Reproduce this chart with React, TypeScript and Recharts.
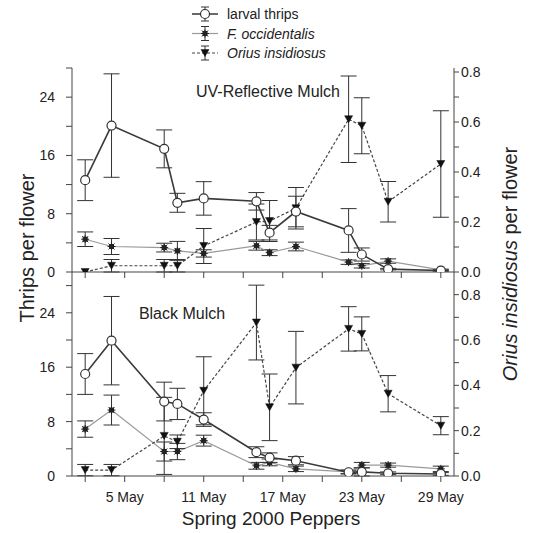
import React from "react";
import {
  ComposedChart,
  Line,
  XAxis,
  YAxis,
  ErrorBar,
} from "recharts";

// sampling dates (day of May 2000)
const days = [2, 4, 8, 9, 11, 15, 16, 18, 22, 23, 25, 29];

// UV-reflective mulch
const thripsUV = [12.6, 20.1, 16.9, 9.5, 10.1, 9.7, 5.4, 8.3, 5.7, 2.4, 0.4, 0.2];
const thripsUVErr = [2.8, 7.1, 2.6, 1.3, 2.3, 1.2, 1.0, 2.1, 3.0, 0.9, 0.1, 0.1];
const foccUV = [4.5, 3.5, 3.35, 2.9, 2.55, 3.6, 2.65, 3.5, 1.35, 0.85, 1.5, 0.3];
const foccUVErr = [1.0, 1.1, 0.6, 1.3, 0.5, 0.6, 0.4, 0.6, 0.3, 0.3, 0.3, 0.1];
const oriusUV = [0.0, 0.025, 0.025, 0.025, 0.104, 0.2, 0.204, 0.255, 0.611, 0.585, 0.281, 0.432];
const oriusUVErr = [0, 0.025, 0.025, 0.025, 0.07, 0.072, 0.082, 0.083, 0.173, 0.112, 0.081, 0.213];

// black mulch
const thripsBlack = [15.0, 19.9, 10.95, 10.6, 8.3, 3.5, 2.7, 2.25, 0.55, 0.6, 0.4, 0.3];
const thripsBlackErr = [3.0, 6.5, 2.85, 2.3, 1.0, 0.8, 0.7, 0.6, 0.2, 0.6, 0.2, 0.2];
const foccBlack = [6.9, 9.7, 3.6, 3.6, 5.2, 1.5, 2.0, 1.05, 0.6, 1.6, 1.6, 1.05];
const foccBlackErr = [1.2, 2.2, 1.4, 1.2, 0.8, 0.5, 0.5, 0.4, 0.3, 0.4, 0.3, 0.4];
const oriusBlack = [0.026, 0.026, 0.177, 0.151, 0.376, 0.677, 0.303, 0.478, 0.649, 0.627, 0.363, 0.222];
const oriusBlackErr = [0.025, 0.025, 0.17, 0.03, 0.15, 0.165, 0.147, 0.16, 0.098, 0.075, 0.08, 0.04];

const xTicks = [2, 5, 8, 11, 14, 17, 20, 23, 26, 29];
const xLabelDays = [5, 11, 17, 23, 29];
const leftTicks = [0, 4, 8, 12, 16, 20, 24, 28];
const rightTicks = [0, 0.1, 0.2, 0.3, 0.4, 0.5, 0.6, 0.7, 0.8];

const FONT = "'Liberation Sans', Arial, sans-serif";
const INK = "#333";

const build = (
  thrips: number[], thripsErr: number[],
  focc: number[], foccErr: number[],
  orius: number[], oriusErr: number[]
) =>
  days.map((d, i) => ({
    day: d,
    thrips: thrips[i], thripsErr: thripsErr[i],
    focc: focc[i], foccErr: foccErr[i],
    orius: orius[i], oriusErr: oriusErr[i],
  }));

const uvData = build(thripsUV, thripsUVErr, foccUV, foccUVErr, oriusUV, oriusUVErr);
const blackData = build(thripsBlack, thripsBlackErr, foccBlack, foccBlackErr, oriusBlack, oriusBlackErr);

const circleDot = (p: any) => {
  if (p.cx == null || p.cy == null) return <g key={`c${p.index}`} />;
  return <circle key={`c${p.index}`} cx={p.cx} cy={p.cy} r={4.5} fill="#fff" stroke={INK} strokeWidth={1.2} />;
};

const starDot = (p: any) => {
  if (p.cx == null || p.cy == null) return <g key={`s${p.index}`} />;
  const { cx, cy } = p;
  return (
    <g key={`s${p.index}`} stroke="#222" strokeWidth={1}>
      <line x1={cx - 4} y1={cy} x2={cx + 4} y2={cy} />
      <line x1={cx} y1={cy - 4} x2={cx} y2={cy + 4} />
      <line x1={cx - 3} y1={cy - 3} x2={cx + 3} y2={cy + 3} />
      <line x1={cx - 3} y1={cy + 3} x2={cx + 3} y2={cy - 3} />
      <rect x={cx - 2} y={cy - 2} width={4} height={4} fill="#222" />
    </g>
  );
};

const triDot = (p: any) => {
  if (p.cx == null || p.cy == null) return <g key={`t${p.index}`} />;
  const { cx, cy } = p;
  return (
    <path
      key={`t${p.index}`}
      d={`M${cx - 4},${cy - 3.5} L${cx + 4},${cy - 3.5} L${cx},${cy + 3.5} Z`}
      fill="#111"
      stroke="#111"
      strokeWidth={0.5}
    />
  );
};

const tickStyle = { fontSize: 14, fill: "#222", fontFamily: FONT };

const Panel = ({
  data, height, top, xHeight, leftMax, rightMax, showXLabels,
}: {
  data: any[]; height: number; top: number; xHeight: number;
  leftMax: number; rightMax: number; showXLabels: boolean;
}) => (
  <div style={{ position: "absolute", left: 0, top: 0 }}>
    <ComposedChart
      width={534}
      height={height}
      data={data}
      margin={{ top, right: 0, bottom: 0, left: 0 }}
    >
      <XAxis
        xAxisId="b"
        dataKey="day"
        type="number"
        domain={[1, 30]}
        ticks={xTicks}
        interval={0}
        allowDataOverflow
        height={xHeight}
        tickSize={6}
        tickMargin={10}
        tick={tickStyle}
        stroke="#444"
        tickFormatter={(v: number) =>
          showXLabels && xLabelDays.includes(v) ? `${v} May` : ""
        }
      />
      <XAxis
        xAxisId="t"
        dataKey="day"
        type="number"
        domain={[1, 30]}
        orientation="top"
        height={0}
        tick={false}
        tickLine={false}
        stroke="#444"
      />
      <YAxis
        yAxisId="left"
        orientation="left"
        width={72}
        domain={[0, leftMax]}
        ticks={leftTicks}
        interval={0}
        allowDataOverflow
        tickSize={6}
        tickMargin={11}
        tick={tickStyle}
        stroke="#444"
        tickFormatter={(v: number) => (v % 8 === 0 ? String(v) : "")}
      />
      <YAxis
        yAxisId="right"
        orientation="right"
        width={80}
        domain={[0, rightMax]}
        ticks={rightTicks}
        interval={0}
        allowDataOverflow
        tickSize={5}
        tickMargin={2}
        tick={tickStyle}
        stroke="#444"
        tickFormatter={(v: number) =>
          Math.round(v * 10) % 2 === 0 ? v.toFixed(1) : ""
        }
      />
      <Line
        xAxisId="b"
        yAxisId="left"
        dataKey="focc"
        stroke="#9a9a9a"
        strokeWidth={1.2}
        dot={starDot}
        activeDot={false}
        isAnimationActive={false}
      >
        <ErrorBar dataKey="foccErr" width={8} stroke={INK} strokeWidth={1} direction="y" />
      </Line>
      <Line
        xAxisId="b"
        yAxisId="right"
        dataKey="orius"
        stroke="#444"
        strokeWidth={1.2}
        strokeDasharray="3 2"
        dot={triDot}
        activeDot={false}
        isAnimationActive={false}
      >
        <ErrorBar dataKey="oriusErr" width={8} stroke={INK} strokeWidth={1} direction="y" />
      </Line>
      <Line
        xAxisId="b"
        yAxisId="left"
        dataKey="thrips"
        stroke="#3a3a3a"
        strokeWidth={1.6}
        dot={circleDot}
        activeDot={false}
        isAnimationActive={false}
      >
        <ErrorBar dataKey="thripsErr" width={8} stroke={INK} strokeWidth={1} direction="y" />
      </Line>
    </ComposedChart>
  </div>
);

const LegendRow = ({ y, kind, children }: { y: number; kind: string; children: React.ReactNode }) => (
  <g>
    <line x1={192} y1={y} x2={218} y2={y} stroke={kind === "focc" ? "#9a9a9a" : "#444"}
      strokeWidth={kind === "thrips" ? 1.6 : 1.2} strokeDasharray={kind === "orius" ? "3 2" : undefined} />
    <line x1={205} y1={y - 7} x2={205} y2={y + 7} stroke={INK} />
    <line x1={201} y1={y - 7} x2={209} y2={y - 7} stroke={INK} />
    <line x1={201} y1={y + 7} x2={209} y2={y + 7} stroke={INK} />
    {kind === "thrips" && circleDot({ cx: 205, cy: y, index: "l" })}
    {kind === "focc" && starDot({ cx: 205, cy: y, index: "l" })}
    {kind === "orius" && triDot({ cx: 205, cy: y, index: "l" })}
    <text x={227} y={y + 5} fontSize={14} fontFamily={FONT} fill="#222">{children}</text>
  </g>
);

export default function App() {
  return (
    <div style={{ position: "absolute", left: 0, top: 0, width: 534, height: 533, background: "#fff" }}>
      <Panel data={uvData} height={280} top={68} xHeight={8} leftMax={28} rightMax={0.816} showXLabels={false} />
      <Panel data={blackData} height={533} top={272} xHeight={57} leftMax={30} rightMax={0.9} showXLabels />
      <svg width={534} height={533} style={{ position: "absolute", left: 0, top: 0, pointerEvents: "none" }}>
        <LegendRow y={14} kind="thrips">larval thrips</LegendRow>
        <LegendRow y={33.5} kind="focc"><tspan fontStyle="italic">F. occidentalis</tspan></LegendRow>
        <LegendRow y={53} kind="orius"><tspan fontStyle="italic">Orius insidiosus</tspan></LegendRow>
        <text x={268} y={97} textAnchor="middle" fontSize={16} fontFamily={FONT} fill="#222">UV-Reflective Mulch</text>
        <text x={182} y={319} textAnchor="middle" fontSize={16} fontFamily={FONT} fill="#222">Black Mulch</text>
        <text x={271} y={525} textAnchor="middle" fontSize={19} fontFamily={FONT} fill="#222">Spring 2000 Peppers</text>
        <text transform="translate(34,248) rotate(-90)" textAnchor="middle" fontSize={20} fontFamily={FONT} fill="#222">Thrips per flower</text>
        <text transform="translate(517,264) rotate(-90)" textAnchor="middle" fontSize={20} fontFamily={FONT} fill="#222">
          <tspan fontStyle="italic">Orius insidiosus</tspan> per flower
        </text>
      </svg>
    </div>
  );
}
